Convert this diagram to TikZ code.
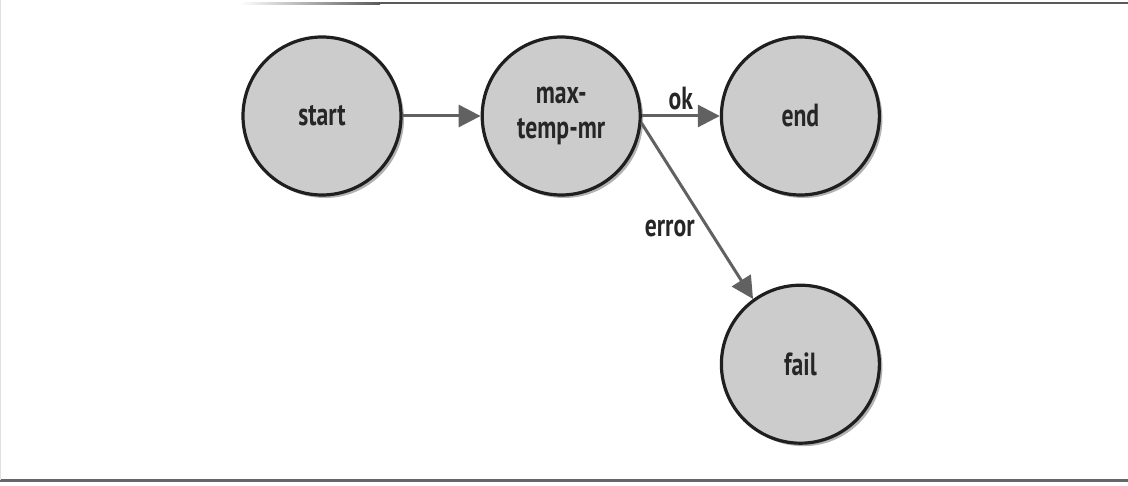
\documentclass[tikz,border=0pt]{standalone}
\usepackage{fontspec}
\setmainfont{PT Sans}[FakeStretch=0.74]
\usetikzlibrary{arrows.meta,positioning,shadows}

\begin{document}
\begin{tikzpicture}[x=1pt,y=1pt,-{Triangle[length=22pt,width=22pt]},line width=3pt,draw=black!62,node distance=78pt,
    state/.style={circle,draw=black!88,line width=3.2pt,fill=black!20,minimum size=158pt,inner sep=0pt,align=center,
      font=\fontsize{32}{35}\selectfont\bfseries,text=black!85,
      drop shadow={shadow xshift=3pt,shadow yshift=-3pt,fill=black,opacity=0.3}},
    edgetext/.style={font=\fontsize{32}{35}\selectfont\bfseries,text=black!85}]

    \useasboundingbox (0,0) rectangle (1128,-486);

    % frame
    \shade[left color=white,right color=black!65] (240,-2.5) rectangle (380,-4.5);
    \fill[black!65] (380,-2.5) rectangle (1128,-4.5);
    \fill[black!60] (0,-479) rectangle (1128,-482);
    \fill[black!12] (0,0) rectangle (1.2,-480);

    \node[state] (start) at (322,-116) {start};
    \node[state] (mr) [right=of start] {max-\\temp-mr};
    \node[state] (end) [right=of mr] {end};
    \node[state] (fail) [below=87pt of end] {fail};

    \draw (start) -- (mr);
    \draw (mr) -- node[edgetext,above=1pt] {ok} (end);
    \draw (mr.-5) -- node[edgetext,left=9pt,pos=0.6] {error} (fail.126);
\end{tikzpicture}
\end{document}
